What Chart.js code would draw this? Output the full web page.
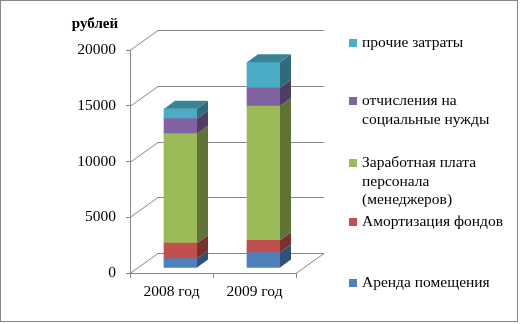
<!DOCTYPE html>
<html>
<head>
<meta charset="utf-8">
<script src="https://cdn.jsdelivr.net/npm/chart.js@4"></script>
<style>
  html, body { margin: 0; padding: 0; background: #fff; }
  canvas { display: block; }
</style>
</head>
<body>
<canvas id="c" width="521" height="324"></canvas>
<script>
// Cost structure by year, stacked 3D-style columns (rubles).

const years = ['2008 год', '2009 год'];

const rent         = [840, 1380];    // Аренда помещения
const depreciation = [1390, 1100];   // Амортизация фондов
const salary       = [9820, 12050];  // Заработная плата персонала
const socialTax    = [1340, 1630];   // отчисления на социальные нужды
const otherCosts   = [890, 2290];    // прочие затраты

const seriesLabels = [
  'Аренда помещения',
  'Амортизация фондов',
  'Заработная плата\nперсонала\n(менеджеров)',
  'отчисления на\nсоциальные нужды',
  'прочие затраты',
];
const seriesColors = ['#4F81BD', '#C0504D', '#9BBB59', '#8064A2', '#4BACC6'];

const Y_MAX = 20000;
const Y_STEP = 5000;

const AXIS = '#868686';
const FONT = '"Liberation Serif", "Times New Roman", serif';

// depth of the back wall and of the column bodies
const WALL_DX = 28, WALL_DY = -20;
const BAR_SHIFT_X = 9, BAR_SHIFT_Y = -5;
const BAR_DX = 11, BAR_DY = -8;

function shade(hex, k) {
  const n = parseInt(hex.slice(1), 16);
  const r = Math.round(((n >> 16) & 255) * k);
  const g = Math.round(((n >> 8) & 255) * k);
  const b = Math.round((n & 255) * k);
  return `rgb(${r},${g},${b})`;
}

const wall3d = {
  id: 'wall3d',
  beforeDatasetsDraw(chart) {
    const { ctx, chartArea: a, scales: { y } } = chart;
    ctx.save();
    ctx.strokeStyle = AXIS;
    ctx.lineWidth = 1;
    for (const t of y.ticks) {
      const py = Math.round(y.getPixelForValue(t.value)) + 0.5;
      ctx.beginPath();
      ctx.moveTo(a.left, py);
      ctx.lineTo(a.left + WALL_DX, py + WALL_DY);
      ctx.lineTo(a.right + WALL_DX, py + WALL_DY);
      ctx.stroke();
    }
    // right edge of the floor
    const by = Math.round(a.bottom) + 0.5;
    ctx.beginPath();
    ctx.moveTo(a.right, by);
    ctx.lineTo(a.right + WALL_DX, by + WALL_DY);
    ctx.stroke();
    ctx.restore();

    // columns stand a little behind the front plane
    ctx.save();
    ctx.translate(BAR_SHIFT_X, BAR_SHIFT_Y);
  },
  afterDatasetsDraw(chart) {
    const { ctx } = chart;
    const n = chart.data.datasets.length;
    chart.data.datasets.forEach((ds, di) => {
      const meta = chart.getDatasetMeta(di);
      meta.data.forEach(bar => {
        const { x, y, base, width } = bar.getProps(['x', 'y', 'base', 'width'], true);
        const l = x - width / 2, r = x + width / 2;
        const top = Math.min(y, base), bot = Math.max(y, base);
        ctx.fillStyle = shade(ds.backgroundColor, 0.62);
        ctx.beginPath();
        ctx.moveTo(r, top);
        ctx.lineTo(r + BAR_DX, top + BAR_DY);
        ctx.lineTo(r + BAR_DX, bot + BAR_DY);
        ctx.lineTo(r, bot);
        ctx.closePath();
        ctx.fill();
        if (di === n - 1) {
          ctx.fillStyle = shade(ds.backgroundColor, 0.76);
          ctx.beginPath();
          ctx.moveTo(l, top);
          ctx.lineTo(l + BAR_DX, top + BAR_DY);
          ctx.lineTo(r + BAR_DX, top + BAR_DY);
          ctx.lineTo(r, top);
          ctx.closePath();
          ctx.fill();
        }
      });
    });
    ctx.restore();
  },
};

// legend rows, top entry first (reverse of stacking order)
const legendRowY = [43, 101, 163, 222, 283];
const LEGEND_X = 349, LEGEND_LINE = 18.5;

const sideLegend = {
  id: 'sideLegend',
  afterDraw(chart) {
    const { ctx } = chart;
    const sets = chart.data.datasets.slice().reverse();
    ctx.save();
    ctx.font = `15.5px ${FONT}`;
    ctx.textBaseline = 'middle';
    ctx.fillStyle = '#000';
    sets.forEach((ds, i) => {
      const cy = legendRowY[i];
      ctx.fillStyle = ds.backgroundColor;
      ctx.fillRect(LEGEND_X, cy - 4, 8, 8);
      ctx.fillStyle = '#000';
      ds.label.split('\n').forEach((line, k) => {
        ctx.fillText(line, LEGEND_X + 13, cy + k * LEGEND_LINE);
      });
    });

    // axis caption
    ctx.font = `bold 15px ${FONT}`;
    ctx.textAlign = 'center';
    ctx.fillText('рублей', 95, 24);

    // outer frame
    ctx.strokeStyle = AXIS;
    ctx.lineWidth = 1;
    ctx.strokeRect(0.5, 0.5, 517, 321);
    ctx.restore();
  },
};

new Chart(document.getElementById('c'), {
  type: 'bar',
  data: {
    labels: years,
    datasets: [rent, depreciation, salary, socialTax, otherCosts].map((d, i) => ({
      label: seriesLabels[i],
      data: d,
      backgroundColor: seriesColors[i],
      borderWidth: 0,
      barThickness: 33,
      clip: false,
    })),
  },
  options: {
    responsive: false,
    animation: false,
    events: [],
    layout: { padding: { top: 50, right: 225, bottom: 0, left: 0 } },
    plugins: { legend: { display: false }, tooltip: { enabled: false } },
    scales: {
      x: {
        stacked: true,
        afterFit(s) { s.height = 51; },
        grid: { drawOnChartArea: false, drawTicks: true, tickLength: 5, color: AXIS, offset: true },
        border: { display: true, color: AXIS },
        ticks: { color: '#000', font: { family: FONT, size: 15.5 }, padding: 5 },
      },
      y: {
        stacked: true,
        min: 0, max: Y_MAX,
        afterFit(s) { s.width = 130; },
        grid: { drawOnChartArea: false, drawTicks: true, tickLength: 4, color: AXIS },
        border: { display: true, color: AXIS },
        ticks: {
          stepSize: Y_STEP,
          color: '#000',
          font: { family: FONT, size: 15.5 },
          padding: 10,
          callback: v => String(v),
        },
      },
    },
  },
  plugins: [wall3d, sideLegend],
});
</script>
</body>
</html>
